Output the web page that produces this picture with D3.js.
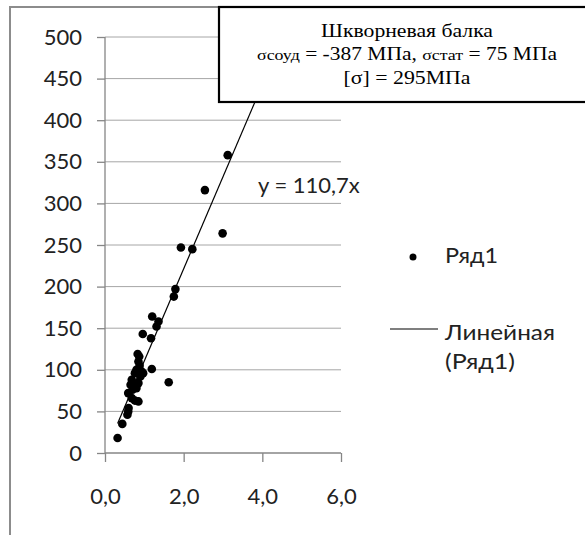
<!DOCTYPE html>
<html><head><meta charset="utf-8">
<script src="https://cdn.jsdelivr.net/npm/d3@7"></script>
<style>body{margin:0;background:#fff}svg{display:block}</style>
</head><body>
<svg id="c" width="585" height="535"></svg>
<script>
// data
const xValues = [0.32,0.44,0.57,0.59,0.60,0.59,0.68,0.76,0.85,0.72,0.80,0.68,0.85,0.76,0.90,0.97,0.80,1.19,0.85,0.87,0.83,1.62,0.96,1.17,1.20,1.31,1.36,1.75,1.79,1.93,2.22,2.54,2.99,3.12,0.65,0.93,0.70,0.88];
const yValues = [18,35,46,50,54,72,66,63,62,80,78,88,84,96,92,96,100,101,110,116,119,85,143,138,164,152,158,188,197,247,245,316,264,358,82,98,76,105];
const slope = 110.7;
const yTicks = [0,50,100,150,200,250,300,350,400,450,500];
const xTicks = [0,2,4,6];
const titleLines = ["Шкворневая балка","[σ] = 295МПа"];
const seriesName = "Ряд1";
const trendName = ["Линейная","(Ряд1)"];
const eqLabel = "y = 110,7x";

const svg = d3.select("#c");
const x = d3.scaleLinear().domain([0,6]).range([105,341]);
const y = d3.scaleLinear().domain([0,500]).range([453,37]);
const axisColor = "#868686";
const font = "Lato, 'Open Sans', sans-serif";
const fs = 22;

// outer frame
svg.append("path").attr("d","M10,535 V7 H585").attr("fill","none").attr("stroke","#8c8c8c").attr("stroke-width",2);

// gridlines
svg.append("g").selectAll("line").data(yTicks.filter(d=>d>0)).join("line")
  .attr("x1",x(0)).attr("x2",x(6)).attr("y1",d=>y(d)).attr("y2",d=>y(d))
  .attr("stroke","#a6a6a6").attr("stroke-width",1);

// axes
const loc = d3.formatLocale({decimal:",",thousands:" ",grouping:[3],currency:["",""]});
const gy = svg.append("g").attr("transform",`translate(${x(0)},0)`)
  .call(d3.axisLeft(y).tickValues(yTicks).tickSize(8).tickPadding(15).tickFormat(d3.format("d")));
const gx = svg.append("g").attr("transform",`translate(0,${y(0)})`)
  .call(d3.axisBottom(x).tickValues(xTicks).tickSize(9).tickPadding(26).tickFormat(loc.format(".1f")));
[gy,gx].forEach(g=>{
  g.select(".domain").attr("stroke",axisColor).attr("stroke-width",1.3);
  g.selectAll(".tick line").attr("stroke",axisColor).attr("stroke-width",1.3);
  g.selectAll("text").attr("fill","#222").attr("font-family",font).attr("font-size",fs);
});
gy.select(".domain").attr("d",`M0,${y(0)}V${y(500)}`);
gx.select(".domain").attr("d",`M${x(0)},0H${x(6)}`);

// trendline
const xMin = d3.min(xValues);
svg.append("line").attr("x1",x(xMin)).attr("y1",y(slope*xMin))
  .attr("x2",x(500/slope)).attr("y2",y(500))
  .attr("stroke","#000").attr("stroke-width",1.2);

// points
svg.append("g").selectAll("circle").data(xValues.map((v,i)=>[v,yValues[i]])).join("circle")
  .attr("cx",d=>x(d[0])).attr("cy",d=>y(d[1])).attr("r",4.3).attr("fill","#000");

// equation label
svg.append("text").attr("x",258).attr("y",193).attr("font-family",font).attr("font-size",fs).attr("fill","#222").text(eqLabel);

// legend
svg.append("circle").attr("cx",413).attr("cy",257).attr("r",3.5).attr("fill","#000");
const lt = (t,yy,w)=>svg.append("text").attr("x",445).attr("y",yy).attr("font-family",font).attr("font-size",fs)
  .attr("fill","#222").attr("textLength",w).attr("lengthAdjust","spacingAndGlyphs").text(t);
lt(seriesName,263,53);
svg.append("line").attr("x1",390).attr("x2",438).attr("y1",329).attr("y2",329).attr("stroke","#000").attr("stroke-width",1.2);
lt(trendName[0],340,110);
lt(trendName[1],369,70);

// title box
svg.append("rect").attr("x",219).attr("y",7).attr("width",400).attr("height",95)
  .attr("fill","#fff").attr("stroke","#000").attr("stroke-width",2.2);
const tf = "'Liberation Serif', 'DejaVu Serif', serif";
const cx = 407;
const tt = (yy,w)=>svg.append("text").attr("x",cx).attr("y",yy).attr("text-anchor","middle").attr("font-family",tf)
  .attr("font-size",18).attr("textLength",w).attr("lengthAdjust","spacingAndGlyphs");
tt(37,172).text(titleLines[0]);
const l2 = tt(60,300);
l2.append("tspan").attr("font-size",15).text("σсоуд");
l2.append("tspan").text(" = -387 МПа, ");
l2.append("tspan").attr("font-size",15).text("σстат");
l2.append("tspan").text(" = 75 МПа");
tt(84,127).text(titleLines[1]);
</script>
</body></html>
